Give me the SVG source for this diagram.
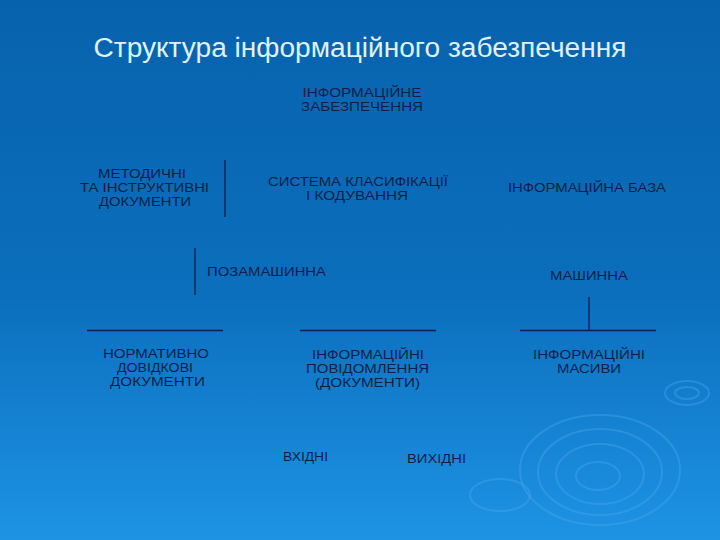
<svg xmlns="http://www.w3.org/2000/svg" width="720" height="540" viewBox="0 0 720 540">
<defs>
<linearGradient id="bg" x1="0" y1="0" x2="0" y2="1">
<stop offset="0" stop-color="#0762ad"/>
<stop offset="0.55" stop-color="#0b6fbd"/>
<stop offset="1" stop-color="#1e93e4"/>
</linearGradient>
<style>
.t{font-family:"Liberation Sans",Arial,sans-serif;font-size:12.5px;fill:#0c1f4a;text-anchor:middle}
.ttl{font-family:"Liberation Sans",Arial,sans-serif;font-size:27px;fill:#dff2ff;text-anchor:middle}
.ln{stroke:#0c1f4a;stroke-width:1.3;fill:none}
.rp{fill:none;stroke:#4aa8ee;stroke-width:2;opacity:0.4}
</style>
</defs>
<rect width="720" height="540" fill="url(#bg)"/>
<g id="ripples">
<ellipse class="rp" cx="600" cy="470" rx="80" ry="55"/>
<ellipse class="rp" cx="600" cy="472" rx="62" ry="43"/>
<ellipse class="rp" cx="600" cy="474" rx="44" ry="30"/>
<ellipse class="rp" cx="598" cy="476" rx="22" ry="14"/>
<ellipse class="rp" cx="687" cy="393" rx="22" ry="12"/>
<ellipse class="rp" cx="687" cy="393" rx="12" ry="6"/>
<ellipse class="rp" cx="500" cy="495" rx="30" ry="16"/>
</g>
<text class="ttl" x="360" y="57" textLength="533" lengthAdjust="spacingAndGlyphs">Структура інформаційного забезпечення</text>
<g id="connectors">
<line class="ln" x1="225" y1="160" x2="225" y2="217"/>
<line class="ln" x1="195" y1="248" x2="195" y2="295"/>
<line class="ln" x1="589" y1="297" x2="589" y2="330"/>
<line class="ln" x1="87" y1="330.5" x2="223" y2="330.5"/>
<line class="ln" x1="300" y1="330.5" x2="436" y2="330.5"/>
<line class="ln" x1="520" y1="330.5" x2="656" y2="330.5"/>
</g>
<g id="root"><text class="t" x="362" y="97" textLength="119" lengthAdjust="spacingAndGlyphs">ІНФОРМАЦІЙНЕ</text><text class="t" x="362" y="111" textLength="122" lengthAdjust="spacingAndGlyphs">ЗАБЕЗПЕЧЕННЯ</text></g>
<g id="metod"><text class="t" x="142" y="178" textLength="88" lengthAdjust="spacingAndGlyphs">МЕТОДИЧНІ</text><text class="t" x="144.5" y="192" textLength="129" lengthAdjust="spacingAndGlyphs">ТА ІНСТРУКТИВНІ</text><text class="t" x="145" y="206" textLength="92" lengthAdjust="spacingAndGlyphs">ДОКУМЕНТИ</text></g>
<g id="system"><text class="t" x="358" y="186" textLength="180" lengthAdjust="spacingAndGlyphs">СИСТЕМА КЛАСИФІКАЦІЇ</text><text class="t" x="357" y="200" textLength="102" lengthAdjust="spacingAndGlyphs">І КОДУВАННЯ</text></g>
<g id="baza"><text class="t" x="587" y="192" textLength="158" lengthAdjust="spacingAndGlyphs">ІНФОРМАЦІЙНА БАЗА</text></g>
<g id="pozamash"><text class="t" x="266.5" y="276" textLength="119" lengthAdjust="spacingAndGlyphs">ПОЗАМАШИННА</text></g>
<g id="mash"><text class="t" x="589" y="280" textLength="78" lengthAdjust="spacingAndGlyphs">МАШИННА</text></g>
<g id="norm"><text class="t" x="156" y="358" textLength="106" lengthAdjust="spacingAndGlyphs">НОРМАТИВНО</text><text class="t" x="155" y="372" textLength="76" lengthAdjust="spacingAndGlyphs">ДОВІДКОВІ</text><text class="t" x="157.5" y="386" textLength="95" lengthAdjust="spacingAndGlyphs">ДОКУМЕНТИ</text></g>
<g id="povid"><text class="t" x="368" y="359" textLength="112" lengthAdjust="spacingAndGlyphs">ІНФОРМАЦІЙНІ</text><text class="t" x="367.5" y="373" textLength="123" lengthAdjust="spacingAndGlyphs">ПОВІДОМЛЕННЯ</text><text class="t" x="367.5" y="387" textLength="105" lengthAdjust="spacingAndGlyphs">(ДОКУМЕНТИ)</text></g>
<g id="masyvy"><text class="t" x="589" y="359" textLength="112" lengthAdjust="spacingAndGlyphs">ІНФОРМАЦІЙНІ</text><text class="t" x="589" y="373" textLength="64" lengthAdjust="spacingAndGlyphs">МАСИВИ</text></g>
<g id="vkhidni"><text class="t" x="305.5" y="461" textLength="45" lengthAdjust="spacingAndGlyphs">ВХІДНІ</text></g>
<g id="vykhidni"><text class="t" x="436.5" y="463" textLength="59" lengthAdjust="spacingAndGlyphs">ВИХІДНІ</text></g>
</svg>
